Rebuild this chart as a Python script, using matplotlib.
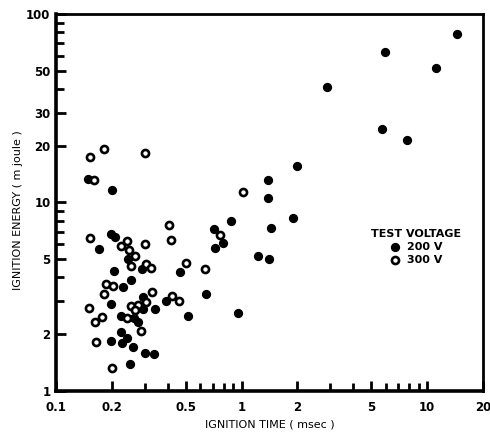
"""Ignition energy vs ignition time, log-log scatter for two test voltages."""

import matplotlib

matplotlib.use("Agg")

import matplotlib.pyplot as plt  # noqa: E402
import matplotlib.ticker as mticker  # noqa: E402

# 200 V test voltage (filled markers): ignition time (msec), energy (m joule)
time_200v = [
    14.4, 5.93, 11.2, 2.88, 5.74, 7.81, 1.98, 1.39, 1.39, 1.89,
    0.875, 1.44, 0.706, 0.796, 0.715, 1.22, 1.41, 0.468, 0.643, 0.512,
    0.958, 0.149, 0.200, 0.170, 0.199, 0.207, 0.245, 0.292, 0.205, 0.254,
    0.230, 0.294, 0.199, 0.296, 0.340, 0.392, 0.223, 0.264, 0.278, 0.225,
    0.241, 0.226, 0.197, 0.260, 0.303, 0.336, 0.249,
]
energy_200v = [
    78.0, 63.1, 51.5, 41.1, 24.5, 21.4, 15.6, 13.1, 10.6, 8.27,
    7.98, 7.35, 7.26, 6.08, 5.71, 5.22, 5.00, 4.30, 3.27, 2.51,
    2.58, 13.4, 11.6, 5.69, 6.78, 6.56, 4.99, 4.44, 4.35, 3.86,
    3.58, 3.14, 2.88, 2.72, 2.73, 3.00, 2.49, 2.45, 2.31, 2.05,
    1.90, 1.80, 1.84, 1.72, 1.60, 1.58, 1.39,
]

# 300 V test voltage (open markers)
time_300v = [
    0.153, 0.182, 0.302, 0.161, 1.02, 0.406, 0.419, 0.152, 0.241, 0.225,
    0.248, 0.302, 0.266, 0.253, 0.307, 0.327, 0.500, 0.635, 0.762, 0.187,
    0.203, 0.182, 0.331, 0.423, 0.458, 0.255, 0.277, 0.307, 0.150, 0.176,
    0.162, 0.242, 0.265, 0.288, 0.164, 0.200,
]
energy_300v = [
    17.4, 19.2, 18.4, 13.2, 11.3, 7.60, 6.35, 6.48, 6.23, 5.86,
    5.62, 6.00, 5.21, 4.63, 4.72, 4.48, 4.79, 4.42, 6.71, 3.70,
    3.61, 3.28, 3.37, 3.21, 3.00, 2.84, 2.86, 2.95, 2.74, 2.47,
    2.33, 2.45, 2.69, 2.07, 1.81, 1.33,
]

x_tick_values = [0.1, 0.2, 0.5, 1, 2, 5, 10, 20]
x_tick_labels = ["0.1", "0.2", "0.5", "1", "2", "5", "10", "20"]
y_tick_values = [1, 2, 5, 10, 20, 30, 50, 100]
y_tick_labels = ["1", "2", "5", "10", "20", "30", "50", "100"]


def main() -> None:
    fig = plt.figure(figsize=(4.9, 4.34), dpi=100)
    ax = fig.add_axes([0.1143, 0.0991, 0.8714, 0.8687])

    ax.scatter(time_200v, energy_200v, s=32, color="black", label="200 V", zorder=3)
    ax.scatter(
        time_300v, energy_300v, s=26, facecolor="white", edgecolor="black",
        linewidth=1.9, label="300 V", zorder=3,
    )

    ax.set_xscale("log")
    ax.set_yscale("log")
    ax.set_xlim(0.1, 20)
    ax.set_ylim(1, 100)

    # ticks: inward, only on bottom/left, minor ticks unlabeled
    ax.xaxis.set_major_locator(mticker.FixedLocator(x_tick_values))
    ax.xaxis.set_major_formatter(mticker.FixedFormatter(x_tick_labels))
    ax.xaxis.set_minor_locator(mticker.LogLocator(base=10, subs=range(2, 10)))
    ax.xaxis.set_minor_formatter(mticker.NullFormatter())
    ax.yaxis.set_major_locator(mticker.FixedLocator(y_tick_values))
    ax.yaxis.set_major_formatter(mticker.FixedFormatter(y_tick_labels))
    ax.yaxis.set_minor_locator(mticker.LogLocator(base=10, subs=range(2, 10)))
    ax.yaxis.set_minor_formatter(mticker.NullFormatter())

    ax.tick_params(which="both", direction="in", width=2.0, top=False, right=False)
    ax.tick_params(which="major", length=7, labelsize=8.5)
    ax.tick_params(axis="x", which="major", pad=7)
    ax.tick_params(axis="y", which="major", pad=4)
    ax.tick_params(which="minor", length=6)
    for lbl in ax.get_xticklabels() + ax.get_yticklabels():
        lbl.set_fontweight("bold")

    for side in ("left", "bottom"):
        ax.spines[side].set_linewidth(2.6)
    for side in ("top", "right"):
        ax.spines[side].set_linewidth(2.0)

    ax.set_xlabel("IGNITION TIME ( msec )", fontsize=8)
    ax.set_ylabel("IGNITION ENERGY ( m joule )", fontsize=8)
    ax.xaxis.set_label_coords(0.5, -0.075)
    ax.yaxis.set_label_coords(-0.077, 0.48)

    ax.legend(
        title="TEST VOLTAGE", loc="upper left", bbox_to_anchor=(0.72, 0.45),
        frameon=False, title_fontproperties={"size": 8, "weight": "bold"},
        prop={"size": 8, "weight": "bold"}, handletextpad=0.6, labelspacing=0.25,
        borderpad=0.2, handlelength=1.0,
    )

    fig.savefig("out.png", dpi=100)
    plt.close(fig)


if __name__ == "__main__":
    main()
